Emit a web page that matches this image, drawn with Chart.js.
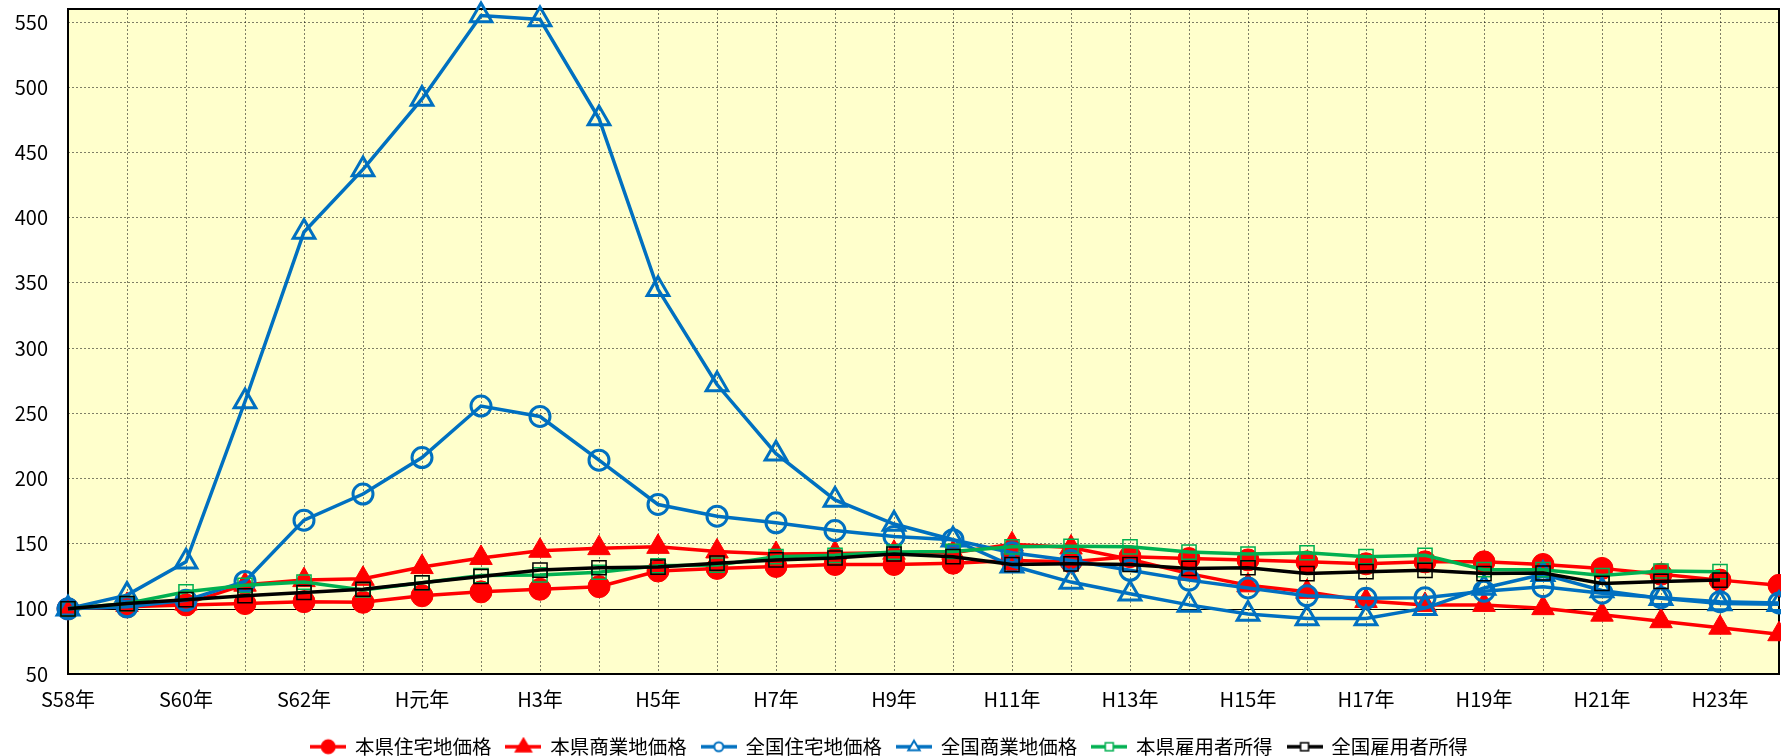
<!DOCTYPE html>
<html>
<head>
<meta charset="utf-8">
<script src="https://cdn.jsdelivr.net/npm/chart.js@4/dist/chart.umd.min.js"></script>
<style>
html,body{margin:0;padding:0;background:#fff;}
#wrap{width:1781px;height:756px;position:relative;}
</style>
</head>
<body>
<div id="wrap"><canvas id="c" width="1781" height="756"></canvas></div>
<script>
const years = ['S58年','S59年','S60年','S61年','S62年','S63年','H元年','H2年','H3年','H4年','H5年','H6年','H7年','H8年','H9年','H10年','H11年','H12年','H13年','H14年','H15年','H16年','H17年','H18年','H19年','H20年','H21年','H22年','H23年','H24年'];
const yTickValues = [50,100,150,200,250,300,350,400,450,500,550];
const seriesNames = ['本県住宅地価格','本県商業地価格','全国住宅地価格','全国商業地価格','本県雇用者所得','全国雇用者所得'];
const prefResidential = [100,101.5,103,104,105.5,105,110,113,115,117,129,131,132.5,134,134,135,137,136,140,138.5,137.5,136,134.5,136,136,134,131,126.5,122,118];
const prefCommercial = [100,103,104,118.5,122,123,132,139,144.5,146.5,147.5,144,142,142.5,143,143,149.5,147,138,127,118,113,106,103,103,100.5,95.5,90.5,85.5,80.5];
const natResidential = [100,101.5,106.5,121,168,188,216,255.5,247.5,214,180,171,166,160,155.5,153,143,137,129.5,122,116,110,108,108.5,113.5,117,112,108.5,105.5,104.5];
const natCommercial = [100,110.5,136,259,389,437,491,555,552,476,345,272,219,183.5,165,153,133,120.5,111.5,103,96,92.5,92.5,100.5,116,126.5,114,108,104,103.5];
const prefWage = [100,104,113,118,120.5,114.5,120,125.5,126,128,133,133.5,140,141,143.5,144,147.5,148,147.5,143.5,142,143,140,141,130,130,125.5,129,128.5,null];
const natWage = [100,104,107,110,112.5,115,120,124.8,129.7,131.5,132,135,137.5,139,142,140,134,134.5,134,131,131.5,127,128.5,129.5,127,127.5,119.5,121,122,null];

const RED = '#FF0000', BLUE = '#0070C0', GREEN = '#00B050', BLACK = '#000000';
const FONT = '"Noto Sans CJK JP", "Noto Sans", sans-serif';

function legendIcon(color, shape, filled) {
  const cv = document.createElement('canvas');
  cv.width = 36; cv.height = 20;
  const g = cv.getContext('2d');
  g.strokeStyle = color; g.lineWidth = 3.5;
  g.beginPath(); g.moveTo(0, 10); g.lineTo(36, 10); g.stroke();
  g.fillStyle = filled ? color : '#FFFFFF';
  g.lineWidth = shape === 'rect' ? 1.5 : 2;
  g.beginPath();
  if (shape === 'circle') { g.arc(18, 10, filled ? 6.5 : 4.5, 0, Math.PI * 2); }
  else if (shape === 'triangle') { const r = filled ? 8 : 6; g.moveTo(18, 10 - r); g.lineTo(18 + r * 0.95, 10 + r * 0.6); g.lineTo(18 - r * 0.95, 10 + r * 0.6); g.closePath(); }
  else { g.rect(14, 6, 8, 8); }
  g.fill();
  g.stroke();
  return cv;
}

const defs = [
  {data: prefResidential, color: RED, shape: 'circle', filled: true, r: 11, bw: 1, lw: 3.5},
  {data: prefCommercial, color: RED, shape: 'triangle', filled: true, r: 13, bw: 1, lw: 3.5},
  {data: natResidential, color: BLUE, shape: 'circle', filled: false, r: 10, bw: 3, lw: 3.5},
  {data: natCommercial, color: BLUE, shape: 'triangle', filled: false, r: 12.5, bw: 3, lw: 3.5},
  {data: prefWage, color: GREEN, shape: 'rect', filled: false, r: 10, bw: 1.5, lw: 3.5},
  {data: natWage, color: BLACK, shape: 'rect', filled: false, r: 10, bw: 1.5, lw: 3.5}
];

const datasets = defs.map((d, i) => ({
  label: seriesNames[i],
  data: d.data,
  borderColor: d.color,
  backgroundColor: d.color,
  borderWidth: d.lw,
  tension: 0,
  pointStyle: d.shape,
  pointRadius: d.r,
  pointBorderWidth: d.bw,
  pointBorderColor: d.color,
  pointBackgroundColor: d.filled ? d.color : 'rgba(0,0,0,0)',
  pointHoverRadius: d.r,
  order: 6 - i,
  spanGaps: false,
  clip: false,
  _icon: legendIcon(d.color, d.shape, d.filled)
}));

const areaPlugin = {
  id: 'area',
  beforeDraw(chart) {
    const {ctx, chartArea: a} = chart;
    ctx.save();
    ctx.fillStyle = '#FFFFFF';
    ctx.fillRect(0, 0, chart.width, chart.height);
    ctx.fillStyle = '#FFFFCC';
    ctx.fillRect(a.left, a.top, a.right - a.left, a.bottom - a.top);
    ctx.restore();
  },
  beforeDatasetsDraw(chart) {
    const {ctx, chartArea: a} = chart;
    const y = Math.round(chart.scales.y.getPixelForValue(100)) + 0.5;
    ctx.save();
    ctx.strokeStyle = '#000'; ctx.lineWidth = 1.2;
    ctx.beginPath(); ctx.moveTo(a.left, y); ctx.lineTo(a.right, y); ctx.stroke();
    ctx.lineWidth = 2;
    ctx.strokeRect(a.left, a.top, a.right - a.left, a.bottom - a.top);
    ctx.restore();
  }
};

function zeroPad(s, horiz) {
  s.paddingTop = 0; s.paddingBottom = 0;
  if (horiz) { s.paddingLeft = 0; s.paddingRight = 0; }
}

new Chart(document.getElementById('c'), {
  type: 'line',
  data: {labels: years, datasets},
  plugins: [areaPlugin],
  options: {
    responsive: false,
    animation: false,
    devicePixelRatio: 1,
    layout: {autoPadding: false, padding: {top: 9, right: 2, left: 0, bottom: -10.5}},
    plugins: {
      tooltip: {enabled: false},
      legend: {
        position: 'bottom',
        labels: {
          usePointStyle: true,
          pointStyleWidth: 34,
          padding: 15,
          color: '#000',
          font: {family: FONT, size: 19.5},
          generateLabels(chart) {
            return chart.data.datasets.map((ds, i) => ({
              text: ds.label,
              pointStyle: ds._icon,
              fillStyle: ds.borderColor,
              strokeStyle: ds.borderColor,
              lineWidth: 0,
              hidden: false,
              datasetIndex: i,
              fontColor: '#000'
            }));
          }
        }
      }
    },
    scales: {
      x: {
        offset: false,
        grid: {color: 'rgba(0,0,0,0.5)', lineWidth: 1, drawTicks: false},
        border: {display: false, dash: [2, 2]},
        ticks: {
          autoSkip: false, maxRotation: 0, minRotation: 0, padding: 13,
          color: '#000', font: {family: FONT, size: 20},
          callback: (v, i) => (i % 2 === 0 ? years[i] : '')
        },
        afterFit(s) { s.height = 48; zeroPad(s, true); }
      },
      y: {
        min: 50, max: 560,
        grid: {color: (c) => (c.tick && c.tick.value === 100 ? 'rgba(0,0,0,0)' : 'rgba(0,0,0,0.5)'), lineWidth: 1, drawTicks: false},
        border: {display: false, dash: [2, 2]},
        ticks: {stepSize: 50, padding: 20, color: '#000', font: {family: FONT, size: 20}},
        afterBuildTicks(s) { s.ticks = yTickValues.map(v => ({value: v})); },
        afterFit(s) { s.width = 68; zeroPad(s, false); }
      }
    }
  }
});
</script>
</body>
</html>
